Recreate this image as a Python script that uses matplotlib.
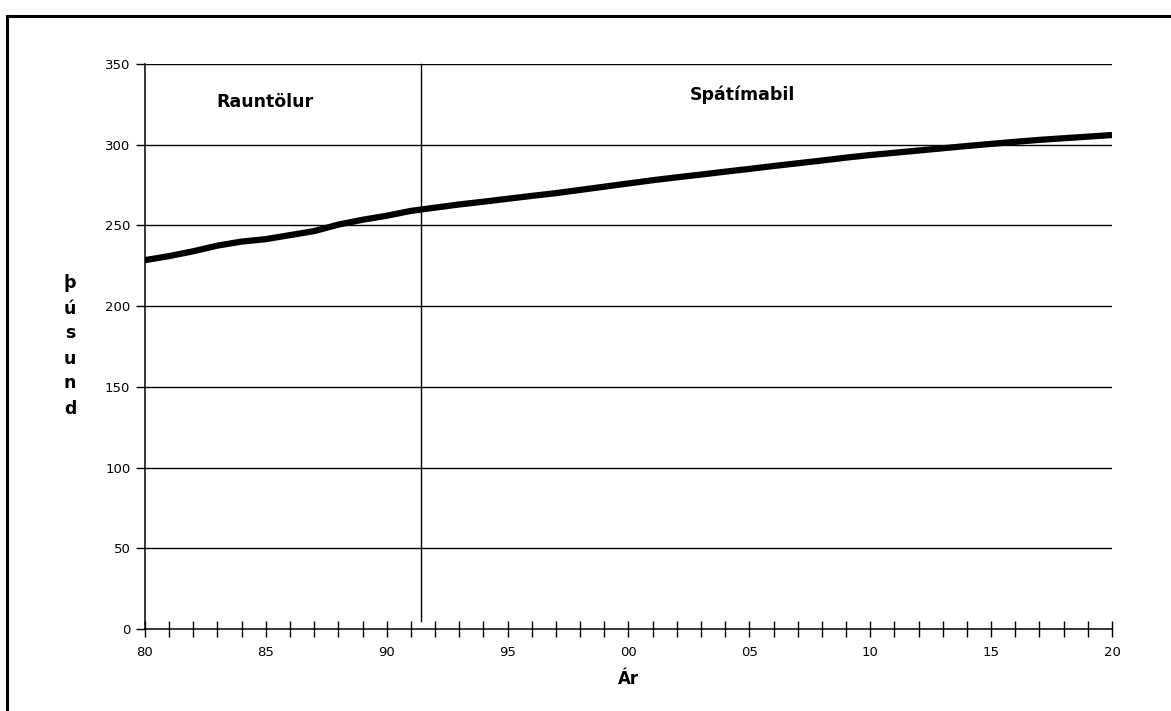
# -*- coding: utf-8 -*-
"""
Mannfjöldi 1980-2020: rauntölur og spá (þúsund).
"""
import matplotlib
matplotlib.use('Agg')
import matplotlib.pyplot as plt
from matplotlib.lines import Line2D

plt.rcParams['font.family'] = ['DejaVu Sans']

# ár (1980-2020) og gildi í þúsundum, lesin af myndinni
years = list(range(1980, 2021))
values = [228.5, 231.0, 234.0, 237.5, 240.0, 241.5, 244.0, 246.5, 250.5, 253.5,
          256.0, 259.0, 261.0, 263.0, 264.7, 266.5, 268.3, 270.0, 272.0, 274.0,
          276.0, 278.0, 279.8, 281.5, 283.3, 285.0, 286.8, 288.5, 290.2, 292.0,
          293.6, 295.0, 296.4, 297.8, 299.2, 300.5, 301.8, 303.0, 304.0, 305.0,
          306.0]
split_year = 1991.42
y_ticks = [0, 50, 100, 150, 200, 250, 300, 350]
x_major = [1980, 1985, 1990, 1995, 2000, 2005, 2010, 2015, 2020]
x_labels = [f'{y % 100:02d}' for y in x_major]
section_labels = ['Rauntölur', 'Spátímabil']
ylabel = 'þúsund'

fig = plt.figure(figsize=(11.71, 7.11), dpi=100)
ax = fig.add_axes([0.1238, 0.1153, 0.8258, 0.7947])

ax.set_xlim(1980, 2020)
ax.set_ylim(0, 350)

# láréttar hjálparlínur
for yv in y_ticks[1:]:
    ax.axhline(yv, color='black', linewidth=1.0, zorder=1)

# skil milli rauntalna og spár
ax.plot([split_year, split_year], [5, 350], color='black', linewidth=1.0, zorder=1,
        clip_on=False)

ax.plot(years, values, color='black', linewidth=4.5, solid_capstyle='butt', zorder=3)

for s in ['top', 'right']:
    ax.spines[s].set_visible(False)
for s in ['left', 'bottom']:
    ax.spines[s].set_linewidth(1.1)

ax.set_yticks(y_ticks)
ax.set_yticklabels([str(v) for v in y_ticks], fontsize=9.5)
ax.tick_params(axis='y', direction='out', length=6.5, width=1.0, pad=4)

ax.set_xticks(x_major)
ax.set_xticklabels(x_labels, fontsize=9.5)
ax.set_xticks(years, minor=True)
ax.tick_params(axis='x', which='both', direction='inout', length=11, width=1.0, pad=6.5)

ax.set_xlabel('Ár', fontsize=12, fontweight='bold', labelpad=8)

ax.text(1984.96, 326.5, section_labels[0], fontsize=12.5, fontweight='bold',
        ha='center', va='center')
ax.text(2004.7, 331, section_labels[1], fontsize=12.5, fontweight='bold',
        ha='center', va='center')

fig.text(70 / 1171, 1 - 346 / 711, '\n'.join(ylabel), fontsize=12.5, fontweight='bold',
         ha='center', va='center', linespacing=1.5)

# rammi utan um myndina (efri og vinstri brún)
fig.add_artist(Line2D([0.0064, 1.0], [0.9775, 0.9775], color='black', linewidth=2.2,
                      transform=fig.transFigure))
fig.add_artist(Line2D([0.0064, 0.0064], [0.0, 0.9775], color='black', linewidth=2.2,
                      transform=fig.transFigure))

fig.savefig('out.png', dpi=100)
